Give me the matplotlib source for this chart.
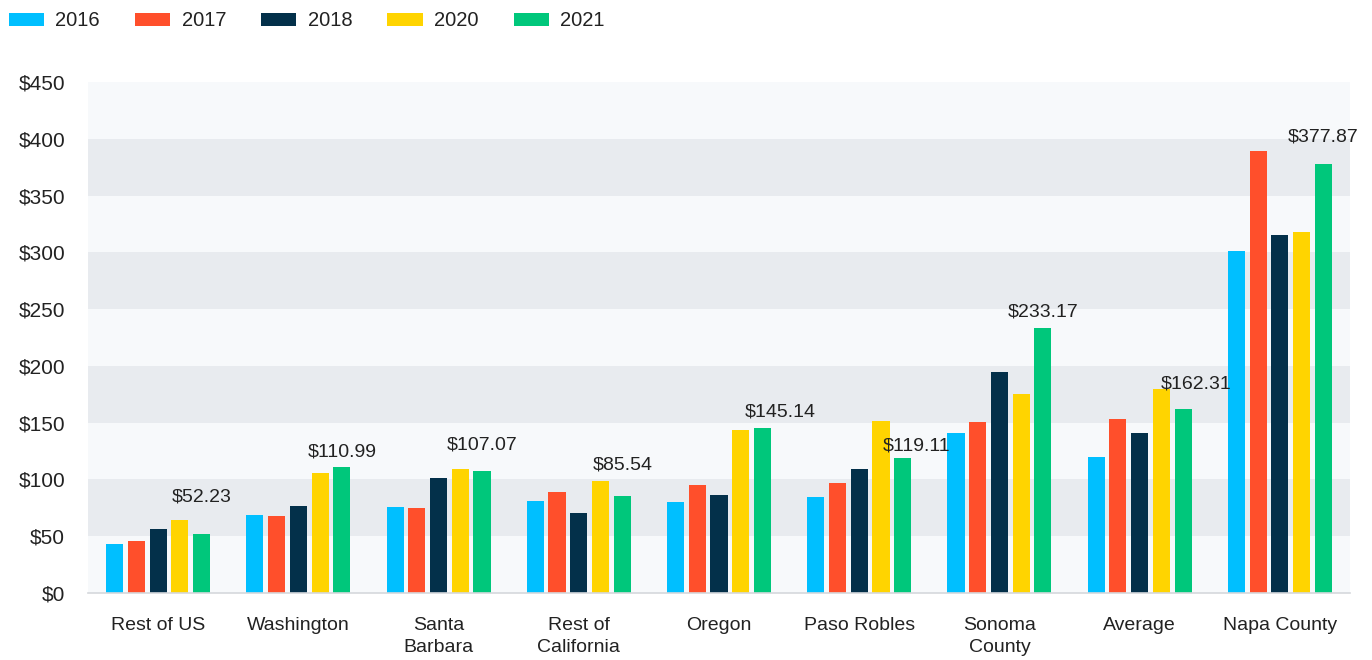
import matplotlib
matplotlib.use("Agg")
import matplotlib.pyplot as plt
import numpy as np

plt.rcParams['font.family'] = ['Liberation Sans', 'DejaVu Sans']

regions = ['Rest of US', 'Washington', 'Santa\nBarbara', 'Rest of\nCalifornia',
           'Oregon', 'Paso Robles', 'Sonoma\nCounty', 'Average', 'Napa County']
years = ['2016', '2017', '2018', '2020', '2021']

v2016 = [43.1, 68.9, 75.4, 81.0, 79.8, 84.5, 140.8, 119.4, 301.0]
v2017 = [45.8, 68.0, 75.0, 89.0, 95.0, 96.8, 150.8, 153.2, 389.0]
v2018 = [56.6, 76.3, 101.2, 70.5, 86.0, 109.4, 194.5, 140.6, 315.7]
v2020 = [64.5, 105.9, 109.2, 98.6, 143.5, 151.4, 175.2, 179.3, 318.3]
v2021 = [52.23, 110.99, 107.07, 85.54, 145.14, 119.11, 233.17, 162.31, 377.87]

colors = ['#00bfff', '#ff4f2b', '#03304a', '#ffd400', '#00c77b']

# label nudges in pixels (dx, dy) relative to top of 2021 bar
label_dx = [0, 0, 0, 0, 18, 14, 0, 13, 0]
label_dy = [37, 15, 26, 31, 16, 12, 16, 25, 27]

fig = plt.figure(figsize=(13.72, 6.6), dpi=100)
ax = fig.add_axes([88 / 1372, 1 - 593 / 660, 1262 / 1372, 511 / 660])

# alternating background bands
for i, lo in enumerate(range(0, 450, 50)):
    ax.axhspan(lo, lo + 50, color='#f7f9fb' if i % 2 == 0 else '#e8ebef', zorder=0, lw=0)

x = np.arange(len(regions))
step = 0.155
width = 0.122
series = [v2016, v2017, v2018, v2020, v2021]
for k, (vals, c, yr) in enumerate(zip(series, colors, years)):
    ax.bar(x + (k - 2) * step, vals, width, color=c, label=yr, zorder=2)

for i, v in enumerate(v2021):
    ax.annotate('${:.2f}'.format(v), (x[i] + 2 * step, v),
                xytext=(label_dx[i], label_dy[i]), textcoords='offset pixels',
                ha='center', va='center', fontsize=14, color='#222222', zorder=3)

ax.set_xlim(-0.5, len(regions) - 0.5)
ax.set_ylim(0, 450)
ax.set_yticks(range(0, 451, 50))
ax.set_yticklabels(['${}'.format(t) for t in range(0, 451, 50)])
ax.set_xticks(x)
ax.set_xticklabels(regions, linespacing=1.4)
ax.tick_params(axis='both', length=0, colors='#222222')
ax.tick_params(axis='y', pad=16.5, labelsize=15)
ax.tick_params(axis='x', pad=17, labelsize=14)
for s in ['top', 'right', 'left']:
    ax.spines[s].set_visible(False)
ax.spines['bottom'].set_color('#d5d8dc')
ax.spines['bottom'].set_linewidth(1.2)

h, l = ax.get_legend_handles_labels()
fig.legend(h, l, loc='center left', bbox_to_anchor=(9 / 1372, 1 - 21 / 660), ncol=5,
           frameon=False, fontsize=14.5, handlelength=1.75, handleheight=0.6,
           handletextpad=0.55, columnspacing=1.75, borderpad=0, borderaxespad=0,
           labelcolor='#222222')

fig.savefig('out.png', dpi=100)
